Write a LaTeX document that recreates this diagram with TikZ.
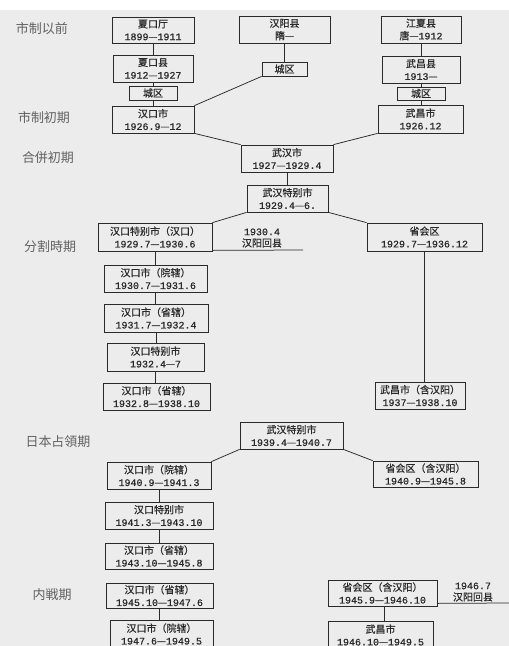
\documentclass[tikz,border=0pt]{standalone}
\usepackage{fontspec}
\newfontfamily\cjk{Noto Sans CJK SC}[FakeBold=0.4]
\newfontfamily\plabel{Noto Sans CJK SC}
\newfontfamily\mono{Liberation Mono}[FakeBold=0.5]
\definecolor{bgc}{HTML}{ECECEC}
\definecolor{ink}{HTML}{2A2A2A}
\newcommand\dd{{\cjk —}}
\newcommand\mkbox[6]{\node[box, minimum width={(#4)-(#2)}, minimum height={(#5)-(#3)}] (#1) at ({((#2)+(#4))/2},{((#3)+(#5))/2}) {#6};}
\begin{document}
\begin{tikzpicture}[x=1pt,y=-1pt,
  box/.style={draw=ink, line width=0.75pt, inner sep=0pt, align=center,
    font=\cjk\fontsize{10}{12.5}\selectfont, text=ink},
  conn/.style={draw=ink, line width=0.75pt},
  period/.style={font=\plabel\fontsize{13}{13}\selectfont, text=black!62},
  note/.style={font=\cjk\fontsize{10}{11.5}\selectfont, align=center, text=ink}]
\fill[white] (0,0) rectangle (509,10);
\fill[bgc] (0,10) rectangle (509,646);
\useasboundingbox (0,0) rectangle (509,646);
\clip (0,0) rectangle (509,646);

% period labels
\node[period] (p1) at (42,29) {市制以前};
\node[period] (p2) at (44,118) {市制初期};
\node[period] (p3) at (48,158) {合併初期};
\node[period] (p4) at (50,247) {分割時期};
\node[period] (p5) at (58,442) {日本占領期};
\node[period] (p6) at (52,595) {内戦期};

% boxes
\mkbox{xkt}{112}{17}{194}{43}{夏口厅\\\mono 1899\dd1911}
\mkbox{hyx}{239}{16}{330}{43}{汉阳县\\隋—}
\mkbox{jxx}{381}{16}{461}{43}{江夏县\\唐—\mono 1912}
\mkbox{xkx}{113}{55}{193}{82}{夏口县\\\mono 1912\dd1927}
\mkbox{cqh}{262}{62}{307}{76}{城区}
\mkbox{whx}{382}{56}{460}{83}{武昌县\\\mono 1913\dd}
\mkbox{cqx}{129}{86}{177}{100}{城区}
\mkbox{cqw}{397}{87}{445}{100}{城区}
\mkbox{hkc}{112}{106}{194}{133}{汉口市\\\mono 1926.9\dd12}
\mkbox{wcs}{378}{105}{463}{133}{武昌市\\\mono 1926.12}
\mkbox{whs}{241}{145}{333}{172}{武汉市\\\mono 1927\dd1929.4}
\mkbox{wht}{247}{185}{328}{212}{武汉特别市\\\mono 1929.4\dd6.}
\mkbox{hkt}{98}{223}{212}{251}{汉口特别市（汉口）\\\mono 1929.7\dd1930.6}
\mkbox{sph}{367}{223}{482}{251}{省会区\\\mono 1929.7\dd1936.12}
\mkbox{hkya}{104}{265}{207}{292}{汉口市（院辖）\\\mono 1930.7\dd1931.6}
\mkbox{hksa}{104}{304}{208}{332}{汉口市（省辖）\\\mono 1931.7\dd1932.4}
\mkbox{hktb}{107}{343}{204}{371}{汉口特别市\\\mono 1932.4\dd7}
\mkbox{hksb}{103}{383}{210}{410}{汉口市（省辖）\\\mono 1932.8\dd1938.10}
\mkbox{wch}{375}{382}{465}{409}{武昌市（含汉阳）\\\mono 1937\dd1938.10}
\mkbox{whtb}{240}{422}{343}{449}{武汉特别市\\\mono 1939.4\dd1940.7}
\mkbox{hkyb}{107}{462}{211}{489}{汉口市（院辖）\\\mono 1940.9\dd1941.3}
\mkbox{sphb}{373}{461}{478}{487}{省会区（含汉阳）\\\mono 1940.9\dd1945.8}
\mkbox{hktc}{105}{502}{213}{529}{汉口特别市\\\mono 1941.3\dd1943.10}
\mkbox{hksc}{105}{543}{213}{569}{汉口市（省辖）\\\mono 1943.10\dd1945.8}
\mkbox{hksd}{106}{583}{213}{608}{汉口市（省辖）\\\mono 1945.10\dd1947.6}
\mkbox{sphc}{328}{580}{437}{606}{省会区（含汉阳）\\\mono 1945.9\dd1946.10}
\mkbox{hkyc}{110}{620}{213}{648}{汉口市（院辖）\\\mono 1947.6\dd1949.5}
\mkbox{wcsb}{328}{621}{433}{649}{武昌市\\\mono 1946.10\dd1949.5}

% vertical connectors
\draw[conn] (xkt.south) -- (xkt.south |- xkx.north);
\draw[conn] (xkx.south) -- (xkx.south |- cqx.north);
\draw[conn] (cqx.south) -- (cqx.south |- hkc.north);
\draw[conn] (hyx.south) -- (hyx.south |- cqh.north);
\draw[conn] (jxx.south) -- (jxx.south |- whx.north);
\draw[conn] (whx.south) -- (whx.south |- cqw.north);
\draw[conn] (cqw.south) -- (cqw.south |- wcs.north);
\draw[conn] (whs.south) -- (whs.south |- wht.north);
\draw[conn] (hkt.south) -- (hkt.south |- hkya.north);
\draw[conn] (hkya.south) -- (hkya.south |- hksa.north);
\draw[conn] (hksa.south) -- (hksa.south |- hktb.north);
\draw[conn] (hktb.south) -- (hktb.south |- hksb.north);
\draw[conn] (sph.south) -- (sph.south |- wch.north);
\draw[conn] (hkyb.south) -- (hkyb.south |- hktc.north);
\draw[conn] (hktc.south) -- (hktc.south |- hksc.north);
\draw[conn] (hksd.south) -- (hksd.south |- hkyc.north);
\draw[conn] ([xshift=2pt]sphc.south) -- ([xshift=2pt]sphc.south |- wcsb.north);

% diagonal connectors
\draw[conn] (cqh.south west) -- (hkc.north east);
\draw[conn] (hkc.south east) -- (whs.north west);
\draw[conn] (wcs.south west) -- (whs.north east);
\draw[conn] (wht.south west) -- (hkt.north east);
\draw[conn] (wht.south east) -- (sph.north west);
\draw[conn] (whtb.south west) -- (hkyb.north east);
\draw[conn] (whtb.south east) -- (sphb.north west);

% annotations
\coordinate (e1) at (303,250);
\draw[conn] ([yshift=1pt]hkt.south east) -- (e1);
\node[note] (n1) at (262,238) {\mono 1930.4\\汉阳回县};
\coordinate (e2) at (509,603);
\draw[conn] ([yshift=3pt]sphc.south east) -- (e2);
\node[note] (n2) at (473,592) {\mono 1946.7\\汉阳回县};
\end{tikzpicture}
\end{document}
